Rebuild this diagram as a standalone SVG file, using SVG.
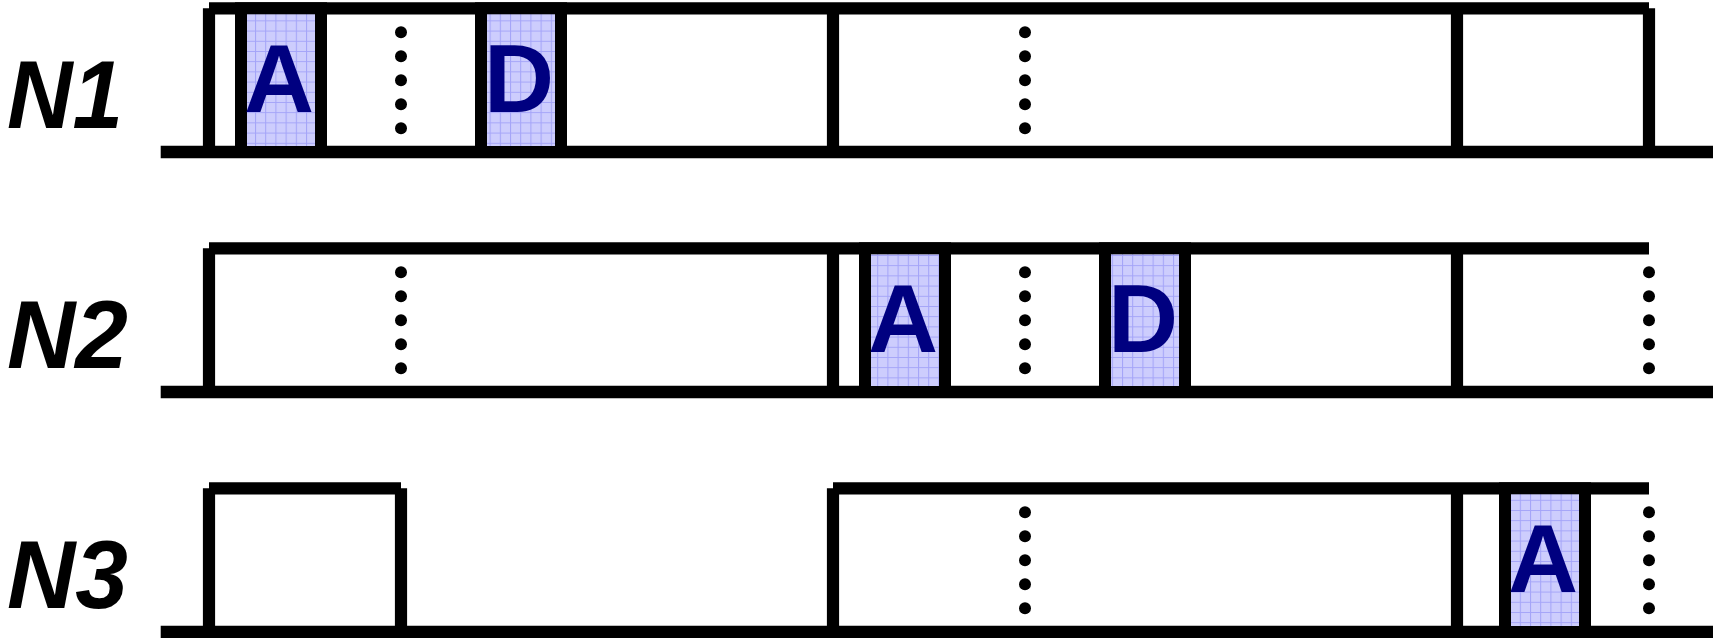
<svg xmlns="http://www.w3.org/2000/svg" width="1713" height="638" viewBox="0 0 1713 638">
  <style>
    .ln { stroke: #000; stroke-width: 12.2; fill: none; stroke-linecap: butt; }
    .base { stroke: #000; stroke-width: 12.3; fill: none; }
    .box { fill: url(#grid); stroke: #000; stroke-width: 12; }
    .dot { fill: #000; }
    .lbl { font-family: "Liberation Sans", Arial, sans-serif; font-weight: bold; font-style: italic; font-size: 97px; fill: #000; }
    .let { font-family: "Liberation Sans", Arial, sans-serif; font-weight: bold; font-size: 97px; fill: #000080; text-anchor: middle; }
  </style>
  <defs>
    <pattern id="grid" patternUnits="userSpaceOnUse" width="10.2" height="10.2">
      <rect width="10.2" height="10.2" fill="#cdcdfd"/>
      <path d="M0 0.5 H10.2 M0.5 0 V10.2" stroke="#a4a4f8" stroke-width="1" fill="none"/>
    </pattern>
    <g id="dots">
      <circle class="dot" cx="0" cy="0" r="6"/>
      <circle class="dot" cx="0" cy="24" r="6"/>
      <circle class="dot" cx="0" cy="48" r="6"/>
      <circle class="dot" cx="0" cy="72" r="6"/>
      <circle class="dot" cx="0" cy="96" r="6"/>
    </g>
  </defs>
  <rect width="1713" height="638" fill="#fff"/>

  <g id="row-N1">
    <text class="lbl" x="7" y="128" textLength="116" lengthAdjust="spacingAndGlyphs">N1</text>
    <line class="base" x1="160.7" y1="152" x2="1713" y2="152"/>
    <line class="ln" x1="209" y1="8.3" x2="1649" y2="8.3"/>
    <line class="ln" x1="209" y1="8.3" x2="209" y2="152"/>
    <line class="ln" x1="833" y1="8.3" x2="833" y2="152"/>
    <line class="ln" x1="1457" y1="8.3" x2="1457" y2="152"/>
    <line class="ln" x1="1649" y1="8.3" x2="1649" y2="152"/>
    <use href="#dots" x="401" y="32.3"/>
    <use href="#dots" x="1025" y="32.3"/>
    <g id="N1-A">
      <rect class="box" x="241" y="8.3" width="80" height="143.7"/>
      <text class="let" x="279" y="112">A</text>
    </g>
    <g id="N1-D">
      <rect class="box" x="481" y="8.3" width="80" height="143.7"/>
      <text class="let" x="519" y="112">D</text>
    </g>
  </g>

  <g id="row-N2">
    <text class="lbl" x="7" y="368" textLength="121" lengthAdjust="spacingAndGlyphs">N2</text>
    <line class="base" x1="160.7" y1="392" x2="1713" y2="392"/>
    <line class="ln" x1="209" y1="248.3" x2="1649" y2="248.3"/>
    <line class="ln" x1="209" y1="248.3" x2="209" y2="392"/>
    <line class="ln" x1="833" y1="248.3" x2="833" y2="392"/>
    <line class="ln" x1="1457" y1="248.3" x2="1457" y2="392"/>
    <use href="#dots" x="401" y="272.3"/>
    <use href="#dots" x="1025" y="272.3"/>
    <use href="#dots" x="1649" y="272.3"/>
    <g id="N2-A">
      <rect class="box" x="865" y="248.3" width="80" height="143.7"/>
      <text class="let" x="903" y="352">A</text>
    </g>
    <g id="N2-D">
      <rect class="box" x="1105" y="248.3" width="80" height="143.7"/>
      <text class="let" x="1143" y="352">D</text>
    </g>
  </g>

  <g id="row-N3">
    <text class="lbl" x="7" y="608" textLength="121" lengthAdjust="spacingAndGlyphs">N3</text>
    <line class="base" x1="160.7" y1="632" x2="1713" y2="632"/>
    <line class="ln" x1="209" y1="488.3" x2="401" y2="488.3"/>
    <line class="ln" x1="209" y1="488.3" x2="209" y2="632"/>
    <line class="ln" x1="401" y1="488.3" x2="401" y2="632"/>
    <line class="ln" x1="833" y1="488.3" x2="1649" y2="488.3"/>
    <line class="ln" x1="833" y1="488.3" x2="833" y2="632"/>
    <line class="ln" x1="1457" y1="488.3" x2="1457" y2="632"/>
    <use href="#dots" x="1025" y="512.3"/>
    <use href="#dots" x="1649" y="512.3"/>
    <g id="N3-A">
      <rect class="box" x="1505" y="488.3" width="80" height="143.7"/>
      <text class="let" x="1543" y="592">A</text>
    </g>
  </g>
</svg>
